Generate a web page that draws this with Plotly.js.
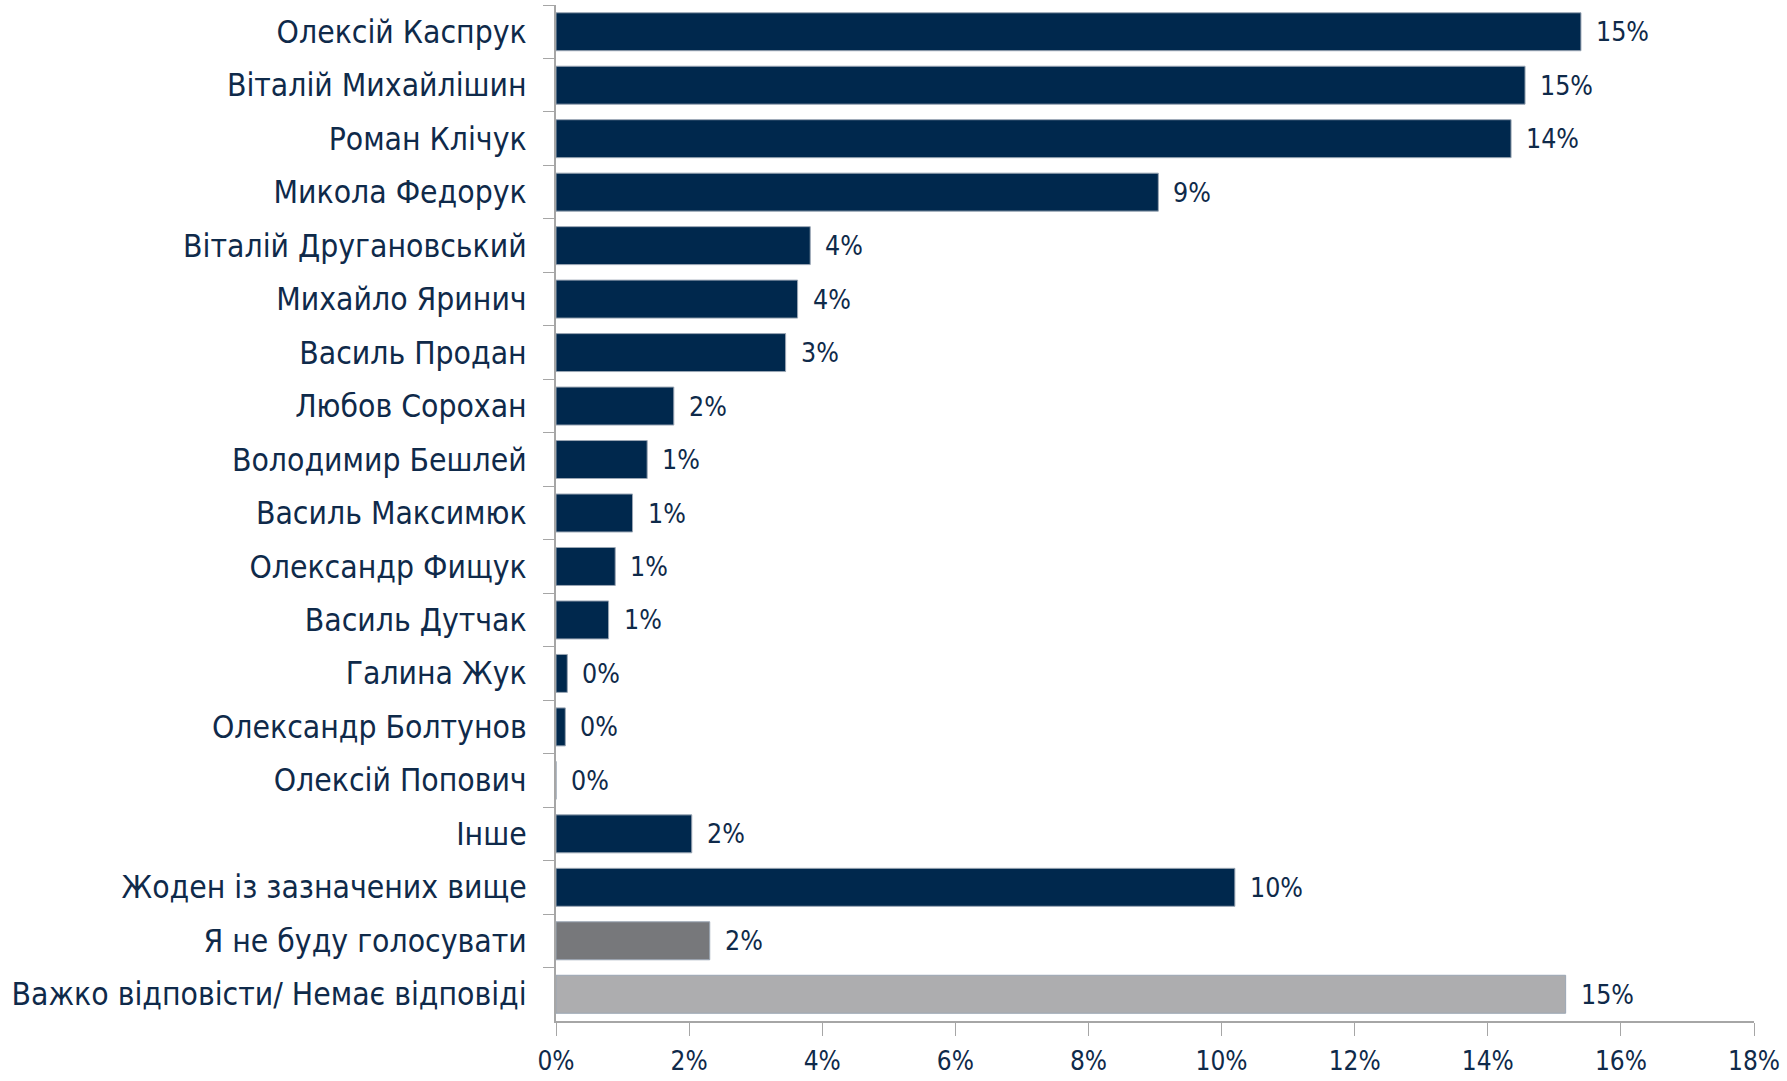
<!DOCTYPE html>
<html>
<head>
<meta charset="utf-8">
<script src="https://cdn.plot.ly/plotly-3.0.1.min.js"></script>
<style>html,body{margin:0;padding:0;background:#fff;}#chart{width:1787px;height:1081px;}</style>
</head>
<body>
<div id="chart"></div>
<script>
var categories = [
  "Олексій Каспрук",
  "Віталій Михайлішин",
  "Роман Клічук",
  "Микола Федорук",
  "Віталій Друганoвський".replace("o","о"),
  "Михайло Яринич",
  "Василь Продан",
  "Любов Сорохан",
  "Володимир Бешлей",
  "Василь Максимюк",
  "Олександр Фищук",
  "Василь Дутчак",
  "Галина Жук",
  "Олександр Болтунов",
  "Олексій Попович",
  "Інше",
  "Жоден із зазначених вище",
  "Я не буду голосувати",
  "Важко відповісти/ Немає відповіді"
];
var values = [15.4, 14.56, 14.35, 9.05, 3.82, 3.63, 3.45, 1.77, 1.37, 1.15, 0.89, 0.79, 0.17, 0.14, 0.0, 2.04, 10.2, 2.31, 15.17];
var valueLabels = ["15%","15%","14%","9%","4%","4%","3%","2%","1%","1%","1%","1%","0%","0%","0%","2%","10%","2%","15%"];
var xTickVals = [0,2,4,6,8,10,12,14,16,18];
var xTickText = ["0%","2%","4%","6%","8%","10%","12%","14%","16%","18%"];

var NAVY = "#00284d";
var TXT = "#0f2a4a";
var barColors = categories.map(function(c, i){
  if (c === "Я не буду голосувати") return "#77787b";
  if (c === "Важко відповісти/ Немає відповіді") return "#adadaf";
  return NAVY;
});
var FONT = "DejaVu Sans Condensed, DejaVu Sans, sans-serif";

var annotations = categories.map(function(c, i){
  return {x: values[i], y: c, xref: "x", yref: "y", text: valueLabels[i],
    showarrow: false, xanchor: "left", yanchor: "middle", xshift: 13,
    font: {family: FONT, size: 26.5, color: TXT}};
});

var data = [{
  type: "bar", orientation: "h",
  x: values, y: categories,
  marker: {color: barColors, line: {color: "#9aa6b4", width: 1}},
  width: 0.71,
  hoverinfo: "x+y"
}];

var layout = {
  width: 1787, height: 1081,
  margin: {l: 556, r: 33, t: 5, b: 60, pad: 0},
  paper_bgcolor: "#fff", plot_bgcolor: "#fff",
  showlegend: false,
  xaxis: {
    range: [0, 18], tickvals: xTickVals, ticktext: xTickText,
    showgrid: false, zeroline: false,
    showline: true, linecolor: "#a6a6a6", linewidth: 2,
    ticks: "outside", ticklen: 13, tickcolor: "#a6a6a6", tickwidth: 1,
    tickfont: {family: FONT, size: 26, color: TXT},
    ticklabelstandoff: 3
  },
  yaxis: {
    type: "category", autorange: "reversed",
    showgrid: false, zeroline: false,
    showline: true, linecolor: "#a6a6a6", linewidth: 2,
    ticks: "outside", tickson: "boundaries", ticklen: 11, tickcolor: "#a6a6a6", tickwidth: 1,
    tickfont: {family: FONT, size: 31.6, color: TXT},
    ticklabelstandoff: 21
  },
  annotations: annotations
};

Plotly.newPlot("chart", data, layout, {displayModeBar: false, staticPlot: true});
</script>
</body>
</html>
